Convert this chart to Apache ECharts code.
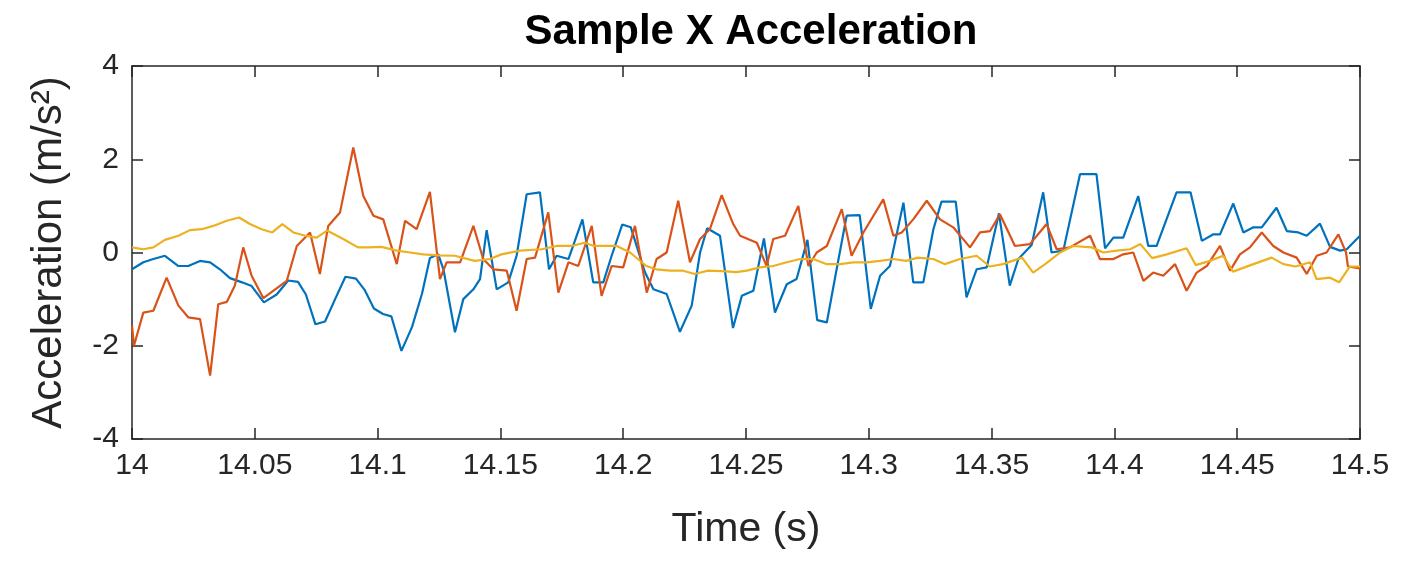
<!DOCTYPE html>
<html>
<head>
<meta charset="utf-8">
<script src="https://cdn.jsdelivr.net/npm/echarts@6/dist/echarts.min.js"></script>
<style>
html,body{margin:0;padding:0;background:#fff;}
#chart{width:1404px;height:565px;}
</style>
</head>
<body>
<div id="chart"></div>
<script>
// Time (s) and acceleration (m/s^2) values
const blueT = [14.0000,14.0046,14.0087,14.0134,14.0189,14.0229,14.0277,14.0318,14.0358,14.0399,
14.0448,14.0487,14.0537,14.0589,14.0636,14.0676,14.0708,14.0747,14.0786,14.0827,
14.0869,14.0912,14.0947,14.0985,14.1022,14.1056,14.1097,14.1140,14.1181,14.1213,
14.1247,14.1268,14.1315,14.1349,14.1390,14.1417,14.1444,14.1485,14.1532,14.1566,
14.1607,14.1661,14.1698,14.1729,14.1777,14.1834,14.1878,14.1919,14.1953,14.1996,
14.2031,14.2089,14.2123,14.2177,14.2231,14.2279,14.2313,14.2342,14.2394,14.2447,
14.2483,14.2530,14.2573,14.2618,14.2666,14.2706,14.2750,14.2790,14.2829,14.2869,
14.2910,14.2963,14.3008,14.3046,14.3086,14.3141,14.3181,14.3222,14.3263,14.3296,
14.3354,14.3398,14.3439,14.3480,14.3530,14.3574,14.3609,14.3663,14.3710,14.3744,
14.3792,14.3860,14.3927,14.3962,14.3996,14.4036,14.4097,14.4138,14.4172,14.4253,
14.4310,14.4356,14.4403,14.4430,14.4484,14.4525,14.4566,14.4600,14.4660,14.4702,
14.4749,14.4783,14.4837,14.4878,14.4919,14.4946,14.5000];
const blueV = [-0.36,-0.21,-0.14,-0.07,-0.29,-0.29,-0.18,-0.21,-0.36,-0.55,
-0.64,-0.72,-1.07,-0.9,-0.6,-0.63,-0.9,-1.54,-1.48,-1.0,
-0.52,-0.56,-0.8,-1.2,-1.32,-1.37,-2.11,-1.6,-0.88,-0.12,
-0.04,-0.36,-1.71,-1.0,-0.79,-0.57,0.48,-0.79,-0.64,-0.07,
1.25,1.29,-0.36,-0.07,-0.14,0.71,-0.64,-0.64,-0.07,0.6,
0.54,-0.43,-0.79,-0.89,-1.7,-1.14,0,0.52,0.36,-1.62,
-0.93,-0.82,0.3,-1.29,-0.68,-0.57,0.27,-1.45,-1.5,-0.36,
0.79,0.8,-1.21,-0.5,-0.29,1.07,-0.64,-0.64,0.5,1.09,
1.09,-0.96,-0.36,-0.32,0.84,-0.71,-0.14,0.16,1.29,0.0,
0.04,1.68,1.68,0.09,0.32,0.32,1.21,0.14,0.14,1.29,
1.29,0.25,0.39,0.39,1.05,0.43,0.54,0.54,0.96,0.46,
0.43,0.36,0.62,0.12,0.04,0.07,0.36];

const orangeT = [14.0000,14.0008,14.0046,14.0087,14.0141,14.0189,14.0229,14.0277,14.0318,14.0351,
14.0386,14.0419,14.0453,14.0487,14.0535,14.0630,14.0671,14.0725,14.0765,14.0799,
14.0847,14.0901,14.0942,14.0983,14.1023,14.1078,14.1112,14.1159,14.1213,14.1254,
14.1281,14.1336,14.1390,14.1430,14.1471,14.1526,14.1566,14.1607,14.1641,14.1695,
14.1736,14.1777,14.1817,14.1872,14.1912,14.1953,14.2000,14.2048,14.2096,14.2136,
14.2177,14.2224,14.2272,14.2313,14.2353,14.2401,14.2448,14.2476,14.2544,14.2584,
14.2611,14.2659,14.2713,14.2754,14.2788,14.2829,14.2890,14.2930,14.2978,14.3059,
14.3100,14.3134,14.3181,14.3236,14.3290,14.3344,14.3412,14.3453,14.3494,14.3534,
14.3595,14.3656,14.3724,14.3765,14.3819,14.3901,14.3941,14.3996,14.4036,14.4077,
14.4118,14.4158,14.4199,14.4247,14.4294,14.4335,14.4376,14.4430,14.4471,14.4511,
14.4552,14.4600,14.4647,14.4688,14.4742,14.4783,14.4824,14.4864,14.4912,14.4943,
14.4951,14.5000];
const orangeV = [-1.57,-2.0,-1.29,-1.25,-0.54,-1.14,-1.39,-1.43,-2.64,-1.11,
-1.06,-0.71,0.11,-0.5,-0.98,-0.61,0.14,0.43,-0.46,0.57,
0.86,2.25,1.21,0.79,0.71,-0.25,0.68,0.5,1.3,-0.57,
-0.21,-0.21,0.57,-0.14,-0.36,-0.39,-1.25,-0.14,-0.11,0.86,
-0.86,-0.21,-0.29,0.57,-0.93,-0.29,-0.32,0.57,-0.86,-0.14,
0,1.11,-0.21,0.29,0.5,1.23,0.61,0.36,0.21,-0.29,
0.29,0.36,1.0,-0.29,0,0.14,0.93,-0.07,0.43,1.14,
0.36,0.43,0.71,1.11,0.71,0.54,0.11,0.43,0.46,0.82,
0.14,0.18,0.61,0.07,0.11,0.36,-0.14,-0.14,-0.04,0,
-0.61,-0.43,-0.5,-0.25,-0.82,-0.43,-0.29,0.14,-0.39,-0.04,
0.11,0.43,0.14,0,-0.11,-0.46,-0.07,0,0.39,0,
-0.3,-0.34];

const yellowT = [14.0000,14.0046,14.0087,14.0134,14.0189,14.0236,14.0284,14.0331,14.0386,14.0436,
14.0480,14.0528,14.0571,14.0612,14.0657,14.0706,14.0752,14.0794,14.0860,14.0920,
14.0962,14.1016,14.1078,14.1132,14.1186,14.1246,14.1315,14.1395,14.1458,14.1504,
14.1580,14.1667,14.1729,14.1789,14.1843,14.1881,14.1974,14.2028,14.2094,14.2135,
14.2191,14.2244,14.2291,14.2345,14.2402,14.2461,14.2503,14.2557,14.2611,14.2666,
14.2720,14.2774,14.2829,14.2883,14.2937,14.2991,14.3046,14.3100,14.3152,14.3200,
14.3263,14.3310,14.3371,14.3439,14.3492,14.3546,14.3624,14.3669,14.3718,14.3779,
14.3831,14.3908,14.3955,14.4009,14.4064,14.4106,14.4154,14.4213,14.4294,14.4331,
14.4389,14.4443,14.4483,14.4566,14.4640,14.4688,14.4738,14.4797,14.4823,14.4878,
14.4915,14.4959,14.5000];
const yellowV = [0.11,0.07,0.11,0.27,0.36,0.48,0.5,0.57,0.68,0.75,
0.61,0.5,0.43,0.61,0.43,0.36,0.32,0.47,0.29,0.11,
0.11,0.12,0.04,0.0,-0.04,-0.06,-0.07,-0.18,-0.14,-0.04,
0.04,0.07,0.14,0.14,0.21,0.14,0.14,0.0,-0.29,-0.36,
-0.39,-0.39,-0.46,-0.39,-0.4,-0.42,-0.39,-0.32,-0.29,-0.21,
-0.14,-0.14,-0.25,-0.25,-0.21,-0.21,-0.18,-0.14,-0.18,-0.11,
-0.14,-0.25,-0.14,-0.07,-0.3,-0.25,-0.11,-0.43,-0.25,0.0,
0.14,0.11,0.0,0.04,0.07,0.18,-0.12,-0.04,0.09,-0.27,
-0.18,-0.07,-0.41,-0.25,-0.11,-0.25,-0.3,-0.21,-0.57,-0.54,
-0.64,-0.3,-0.3];

const xTicks = [14, 14.05, 14.1, 14.15, 14.2, 14.25, 14.3, 14.35, 14.4, 14.45, 14.5];
const yTicks = [-4, -2, 0, 2, 4];

const titleText = 'Sample X Acceleration';
const xName = 'Time (s)';
const yName = 'Acceleration (m/s²)';

function zip(t, v) { return t.map((x, i) => [x, v[i]]); }

const axisColor = '#262626';
const font = 'Liberation Sans, Arial, Helvetica, sans-serif';

const chart = echarts.init(document.getElementById('chart'), null, {renderer: 'canvas'});

const baseX = {
  type: 'value',
  min: xTicks[0],
  max: xTicks[xTicks.length - 1],
  interval: 0.05,
  splitLine: {show: false},
  axisLine: {show: true, onZero: false, lineStyle: {color: axisColor, width: 1.5}},
  axisTick: {show: true, inside: true, length: 11, lineStyle: {color: axisColor, width: 1.5}},
};
const baseY = {
  type: 'value',
  min: yTicks[0],
  max: yTicks[yTicks.length - 1],
  interval: 2,
  splitLine: {show: false},
  axisLine: {show: true, onZero: false, lineStyle: {color: axisColor, width: 1.5}},
  axisTick: {show: true, inside: true, length: 11, lineStyle: {color: axisColor, width: 1.5}},
};

chart.setOption({
  animation: false,
  backgroundColor: '#ffffff',
  textStyle: {fontFamily: font},
  title: {
    text: titleText,
    left: 746,
    top: 6,
    textAlign: 'center',
    textStyle: {fontFamily: font, fontWeight: 'bold', fontSize: 42, color: '#000000'}
  },
  grid: {left: 132, right: 44, top: 66, bottom: 126, containLabel: false},
  xAxis: [
    Object.assign({}, baseX, {
      position: 'bottom',
      name: xName,
      nameLocation: 'middle',
      nameGap: 70,
      nameTextStyle: {fontFamily: font, fontSize: 41, color: axisColor},
      axisLabel: {
        show: true, margin: 12, fontSize: 30, color: axisColor, fontFamily: font,
        formatter: v => String(parseFloat(v.toFixed(2)))
      }
    }),
    Object.assign({}, baseX, {position: 'top', axisLabel: {show: false}})
  ],
  yAxis: [
    Object.assign({}, baseY, {
      position: 'left',
      name: yName,
      nameLocation: 'middle',
      nameGap: 62,
      nameTextStyle: {fontFamily: font, fontSize: 42, color: axisColor},
      axisLabel: {
        show: true, margin: 13, fontSize: 30, color: axisColor, fontFamily: font,
        formatter: v => String(v)
      }
    }),
    Object.assign({}, baseY, {position: 'right', axisLabel: {show: false}})
  ],
  series: [
    {type: 'line', data: zip(blueT, blueV), xAxisIndex: 0, yAxisIndex: 0, showSymbol: false, symbol: 'none',
     lineStyle: {color: '#0072BD', width: 2.2}, itemStyle: {color: '#0072BD'}, clip: true},
    {type: 'line', data: zip(orangeT, orangeV), xAxisIndex: 0, yAxisIndex: 0, showSymbol: false, symbol: 'none',
     lineStyle: {color: '#D95319', width: 2.2}, itemStyle: {color: '#D95319'}, clip: true},
    {type: 'line', data: zip(yellowT, yellowV), xAxisIndex: 0, yAxisIndex: 0, showSymbol: false, symbol: 'none',
     lineStyle: {color: '#EDB120', width: 2.2}, itemStyle: {color: '#EDB120'}, clip: true}
  ]
});
</script>
</body>
</html>
